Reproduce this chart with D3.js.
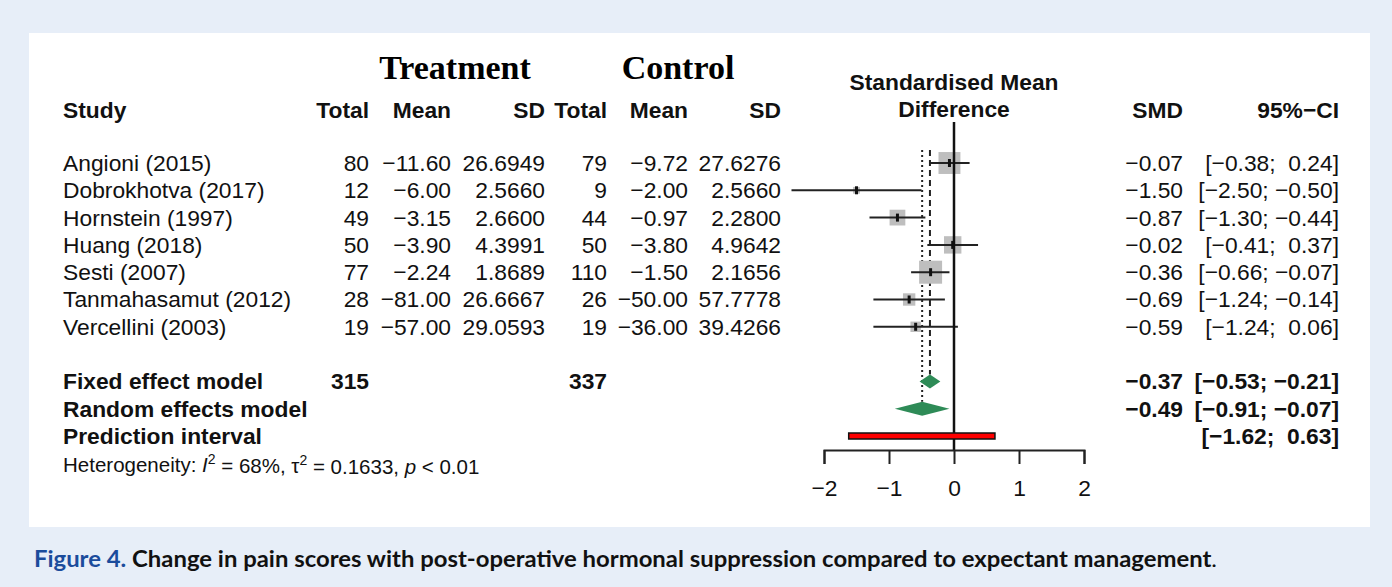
<!DOCTYPE html>
<html>
<head>
<meta charset="utf-8">
<script src="https://cdn.jsdelivr.net/npm/d3@7"></script>
<style>
  body { margin: 0; background: #e7eef8; }
  svg text { font-family: "Liberation Sans", Arial, sans-serif; white-space: pre; }
</style>
</head>
<body>
<div id="container"></div>
<script>
var studies = ["Angioni (2015)", "Dobrokhotva (2017)", "Hornstein (1997)", "Huang (2018)",
  "Sesti (2007)", "Tanmahasamut (2012)", "Vercellini (2003)"];
var totalT = [80, 12, 49, 50, 77, 28, 19];
var meanT = [-11.60, -6.00, -3.15, -3.90, -2.24, -81.00, -57.00];
var sdT = [26.6949, 2.5660, 2.6600, 4.3991, 1.8689, 26.6667, 29.0593];
var totalC = [79, 9, 44, 50, 110, 26, 19];
var meanC = [-9.72, -2.00, -0.97, -3.80, -1.50, -50.00, -36.00];
var sdC = [27.6276, 2.5660, 2.2800, 4.9642, 2.1656, 57.7778, 39.4266];
var smd = [-0.07, -1.50, -0.87, -0.02, -0.36, -0.69, -0.59];
var ciLow = [-0.38, -2.50, -1.30, -0.41, -0.66, -1.24, -1.24];
var ciHigh = [0.24, -0.50, -0.44, 0.37, -0.07, -0.14, 0.06];
var weights = [25.7, 2.5, 13.3, 16.2, 28.3, 8.2, 5.8];

var fixedModel = { name: "Fixed effect model", nT: 315, nC: 337, est: -0.37, lo: -0.53, hi: -0.21 };
var randomModel = { name: "Random effects model", est: -0.49, lo: -0.91, hi: -0.07 };
var predInterval = { name: "Prediction interval", lo: -1.62, hi: 0.63 };
var xTicks = [-2, -1, 0, 1, 2];

var W = 1392, H = 587;
var svg = d3.select("#container").append("svg").attr("width", W).attr("height", H);

svg.append("rect").attr("width", W).attr("height", H).attr("fill", "#e7eef8");
svg.append("rect").attr("x", 29).attr("y", 33).attr("width", 1341).attr("height", 494).attr("fill", "#fff");

var x = d3.scaleLinear().domain([-2, 2]).range([824, 1084]);
var row = d3.scaleLinear().domain([0, 1]).range([163, 190.3]);
var box = d3.scaleSqrt().domain([0, d3.max(weights)]).range([0, 23]);
var f2 = d3.format(".2f"), f4 = d3.format(".4f");
var fs = 22.8;

function ci(lo, hi) {
  var h = f2(hi);
  if (hi >= 0) h = " " + h;
  return "[" + f2(lo) + "; " + h + "]";
}

function txt(xp, yp, s, anchor, bold) {
  return svg.append("text").attr("x", xp).attr("y", yp).attr("dy", "0.35em")
    .attr("text-anchor", anchor || "start")
    .attr("font-size", fs).attr("font-weight", bold ? "bold" : "normal")
    .attr("fill", "#111").text(s);
}

// headers
svg.append("text").attr("x", 455).attr("y", 67).attr("dy", "0.35em").attr("text-anchor", "middle")
  .style("font-family", "'Liberation Serif', 'Times New Roman', serif")
  .attr("font-size", 34).attr("font-weight", "bold").text("Treatment");
svg.append("text").attr("x", 678).attr("y", 67).attr("dy", "0.35em").attr("text-anchor", "middle")
  .style("font-family", "'Liberation Serif', 'Times New Roman', serif")
  .attr("font-size", 34).attr("font-weight", "bold").text("Control");

var hy = 110;
txt(63, hy, "Study", "start", true);
txt(369, hy, "Total", "end", true);
txt(451, hy, "Mean", "end", true);
txt(545, hy, "SD", "end", true);
txt(607, hy, "Total", "end", true);
txt(688, hy, "Mean", "end", true);
txt(781, hy, "SD", "end", true);
txt(954, 82, "Standardised Mean", "middle", true);
txt(954, 109, "Difference", "middle", true);
txt(1183, hy, "SMD", "end", true);
txt(1339, hy, "95%\u2212CI", "end", true);

// study rows
studies.forEach(function (s, i) {
  var y = row(i);
  txt(63, y, s);
  txt(369, y, totalT[i], "end");
  txt(451, y, f2(meanT[i]), "end");
  txt(545, y, f4(sdT[i]), "end");
  txt(607, y, totalC[i], "end");
  txt(688, y, f2(meanC[i]), "end");
  txt(781, y, f4(sdC[i]), "end");
  txt(1183, y, f2(smd[i]), "end");
  txt(1339, y, ci(ciLow[i], ciHigh[i]), "end");
});

// summary rows
txt(63, row(8), fixedModel.name, "start", true);
txt(369, row(8), fixedModel.nT, "end", true);
txt(607, row(8), fixedModel.nC, "end", true);
txt(1183, row(8), f2(fixedModel.est), "end", true);
txt(1339, row(8), ci(fixedModel.lo, fixedModel.hi), "end", true);
txt(63, row(9), randomModel.name, "start", true);
txt(1183, row(9), f2(randomModel.est), "end", true);
txt(1339, row(9), ci(randomModel.lo, randomModel.hi), "end", true);
txt(63, row(10), predInterval.name, "start", true);
txt(1339, row(10), ci(predInterval.lo, predInterval.hi), "end", true);

var het = svg.append("text").attr("x", 63).attr("y", 465).attr("dy", "0.35em")
  .attr("font-size", 20.5).attr("fill", "#111");
het.append("tspan").text("Heterogeneity: ");
het.append("tspan").attr("font-style", "italic").text("I");
het.append("tspan").attr("font-size", 14).attr("dy", "-0.6em").text("2");
het.append("tspan").attr("dy", "0.45em").text(" = 68%, \u03c4");
het.append("tspan").attr("font-size", 14).attr("dy", "-0.6em").text("2");
het.append("tspan").attr("dy", "0.45em").text(" = 0.1633, ");
het.append("tspan").attr("font-style", "italic").text("p");
het.append("tspan").text(" < 0.01");

// plot
var plot = svg.append("g");
var axisY = 450;

// reference lines
plot.append("line").attr("x1", x(fixedModel.est)).attr("x2", x(fixedModel.est))
  .attr("y1", 150).attr("y2", row(8) - 7)
  .attr("stroke", "#222").attr("stroke-width", 2).attr("stroke-dasharray", "6,4");
plot.append("line").attr("x1", x(randomModel.est)).attr("x2", x(randomModel.est))
  .attr("y1", 150).attr("y2", row(9) - 7)
  .attr("stroke", "#222").attr("stroke-width", 2).attr("stroke-dasharray", "2,3");

// study boxes + CI lines
var g = plot.selectAll("g.study").data(studies).enter().append("g").attr("class", "study");
g.append("rect")
  .attr("x", function (d, i) { return x(smd[i]) - box(weights[i]) / 2; })
  .attr("y", function (d, i) { return row(i) - box(weights[i]) / 2; })
  .attr("width", function (d, i) { return box(weights[i]); })
  .attr("height", function (d, i) { return box(weights[i]); })
  .attr("fill", "#bebebe");
g.append("line")
  .attr("x1", function (d, i) { return x(ciLow[i]); })
  .attr("x2", function (d, i) { return x(ciHigh[i]); })
  .attr("y1", function (d, i) { return row(i); })
  .attr("y2", function (d, i) { return row(i); })
  .attr("stroke", "#222").attr("stroke-width", 2);
g.append("line")
  .attr("x1", function (d, i) { return x(smd[i]); })
  .attr("x2", function (d, i) { return x(smd[i]); })
  .attr("y1", function (d, i) { return row(i) - 4; })
  .attr("y2", function (d, i) { return row(i) + 4; })
  .attr("stroke", "#111").attr("stroke-width", 3);

// diamonds
[fixedModel, randomModel].forEach(function (m, k) {
  var y = row(8 + k), h = 7;
  plot.append("path")
    .attr("d", "M" + x(m.lo) + "," + y + "L" + x(m.est) + "," + (y - h) + "L" + x(m.hi) + "," + y +
      "L" + x(m.est) + "," + (y + h) + "Z")
    .attr("fill", "#2e8b57");
});

// zero line
plot.append("line").attr("x1", x(0)).attr("x2", x(0)).attr("y1", 122).attr("y2", axisY)
  .attr("stroke", "#111").attr("stroke-width", 2.5);

// prediction interval
plot.append("rect").attr("x", x(predInterval.lo)).attr("width", x(predInterval.hi) - x(predInterval.lo))
  .attr("y", row(10) - 3).attr("height", 6)
  .attr("fill", "#ff0000").attr("stroke", "#111").attr("stroke-width", 1.5);

// axis
var ax = plot.append("g").attr("transform", "translate(0," + axisY + ")")
  .call(d3.axisBottom(x).tickValues(xTicks).tickSize(14).tickSizeOuter(14).tickPadding(16)
    .tickFormat(d3.format("d")));
ax.selectAll("path, line").attr("stroke", "#222").attr("stroke-width", 2);
ax.selectAll("text").attr("font-size", fs).attr("fill", "#111")
  .style("font-family", "'Liberation Sans', Arial, sans-serif");

// caption
var cap = svg.append("text").attr("x", 34).attr("y", 567).attr("font-size", 22).attr("font-weight", "bold")
  .style("font-family", "Lato, 'Open Sans', sans-serif")
  .attr("textLength", 1183).attr("lengthAdjust", "spacingAndGlyphs");
cap.append("tspan").attr("fill", "#1b4c9c").text("Figure 4. ");
cap.append("tspan").attr("fill", "#111").text("Change in pain scores with post-operative hormonal suppression compared to expectant management");
cap.append("tspan").attr("fill", "#111").attr("font-weight", "normal").text(".");
</script>
</body>
</html>
